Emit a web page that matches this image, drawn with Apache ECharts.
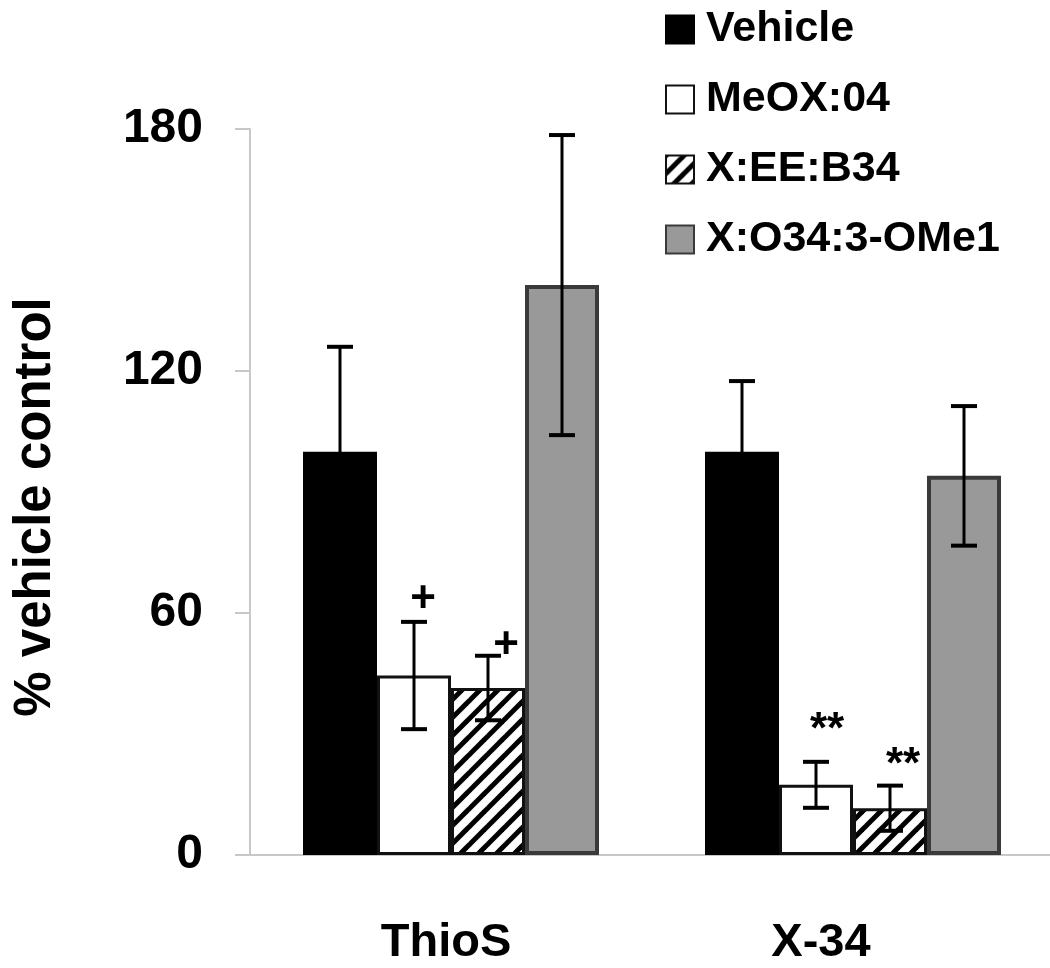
<!DOCTYPE html>
<html><head><meta charset="utf-8">
<script src="https://cdn.jsdelivr.net/npm/echarts@6/dist/echarts.min.js"></script>
<style>html,body{margin:0;padding:0;background:#fff}#c{width:1050px;height:968px}</style>
</head><body><div id="c"></div>
<script>
// ---- data ----
const categories = ['ThioS', 'X-34'];
const seriesNames = ['Vehicle', 'MeOX:04', 'X:EE:B34', 'X:O34:3-OMe1'];
const vehicle = [100, 100];
const meox = [44.5, 17.4];
const xee = [41.4, 11.6];
const xo34 = [141.3, 94];
const vehicleErr = [26, 17.5];
const meoxErr = [13.3, 5.7];
const xeeErr = [8, 5.6];
const xo34Err = [37.2, 17.3];
const meoxMarks = ['+', '**'];
const xeeMarks = ['+', '**'];
const yMin = 0, yMax = 180, yStep = 60;

// ---- styling ----
const FONT = '"Liberation Sans", Arial, sans-serif';
const BAR_W = 74;
const values = [vehicle, meox, xee, xo34];
const errs = [vehicleErr, meoxErr, xeeErr, xo34Err];
const marks = [null, meoxMarks, xeeMarks, null];
// pixel offsets of significance marks relative to the error-bar top [series][category]
const markOffset = { 1: [[9, 22], [11, 31]], 2: [[18, 10], [13, 20]] };

function hatch() {
  const s = 18, c = document.createElement('canvas');
  c.width = s; c.height = s;
  const g = c.getContext('2d');
  g.fillStyle = '#fff'; g.fillRect(0, 0, s, s);
  g.strokeStyle = '#000'; g.lineWidth = 5;
  for (const o of [-s, 0, s]) {
    g.beginPath(); g.moveTo(o - 2, s + 2); g.lineTo(o + s + 2, -2); g.stroke();
  }
  return c;
}

const barStyles = [
  { color: '#000', borderColor: '#000', borderWidth: 2 },
  { color: '#fff', borderColor: '#111', borderWidth: 3 },
  { color: { image: hatch(), repeat: 'repeat' }, borderColor: '#111', borderWidth: 3 },
  { color: '#999', borderColor: '#3a3a3a', borderWidth: 4 }
];

const barSeries = seriesNames.map((n, i) => ({
  name: n, type: 'bar', data: values[i], barWidth: BAR_W, barGap: '0%',
  itemStyle: barStyles[i], z: 2, animation: false
}));

const errData = [];
values.forEach((arr, s) => arr.forEach((v, c) => errData.push([c, v, errs[s][c], s])));

const errSeries = {
  name: 'err', type: 'custom', z: 5, animation: false,
  data: errData, encode: { x: 0, y: 1 },
  renderItem: (params, api) => {
    const c = api.value(0), v = api.value(1), e = api.value(2), s = api.value(3);
    const p = api.coord([c, v]);
    const top = api.coord([c, v + e])[1];
    const bot = api.coord([c, v - e])[1];
    const x = p[0] + (s - 1.5) * BAR_W;
    const st = { stroke: '#000', lineWidth: 3 };
    const cap = { stroke: '#000', lineWidth: 4 };
    return { type: 'group', children: [
      { type: 'line', shape: { x1: x, y1: top, x2: x, y2: bot }, style: st },
      { type: 'line', shape: { x1: x - 13, y1: top, x2: x + 13, y2: top }, style: cap },
      { type: 'line', shape: { x1: x - 13, y1: bot, x2: x + 13, y2: bot }, style: cap }
    ] };
  }
};

const markData = [];
marks.forEach((m, s) => { if (m) m.forEach((t, c) => markData.push([c, values[s][c] + errs[s][c], s])); });

const markSeries = {
  name: 'marks', type: 'custom', z: 6, animation: false,
  data: markData, encode: { x: 0, y: 1 },
  renderItem: (params, api) => {
    const c = api.value(0), v = api.value(1), s = api.value(2);
    const p = api.coord([c, v]);
    const off = markOffset[s][c];
    const x = p[0] + (s - 1.5) * BAR_W + off[0];
    return { type: 'text', style: {
      x: x, y: p[1] - off[1], text: marks[s][c],
      font: 'bold 44px ' + FONT, fill: '#000', align: 'center', verticalAlign: 'middle'
    } };
  }
};

const chart = echarts.init(document.getElementById('c'), null, { renderer: 'canvas' });
chart.setOption({
  backgroundColor: '#fff',
  animation: false,
  grid: { left: 250, top: 129, width: 804, bottom: 113, containLabel: false, outerBoundsMode: 'none' },
  legend: {
    data: seriesNames, orient: 'vertical', left: 665, top: 8, padding: 0,
    icon: 'rect', itemWidth: 28, itemHeight: 28, itemGap: 27,
    selectedMode: false,
    textStyle: { fontFamily: FONT, fontWeight: 'bold', fontSize: 43, color: '#000', lineHeight: 40, padding: [0, 0, 0, 7] }
  },
  xAxis: {
    type: 'category', data: [
      { value: categories[0], textStyle: { padding: [0, 10, 0, 0] } },
      { value: categories[1], textStyle: { padding: [0, 64, 0, 0] } }
    ],
    axisLine: { show: true, lineStyle: { color: '#c8c8c8', width: 2 } },
    axisTick: { show: false },
    axisLabel: { fontFamily: FONT, fontWeight: 'bold', fontSize: 47, color: '#000', margin: 65 }
  },
  yAxis: {
    type: 'value', min: yMin, max: yMax, interval: yStep,
    name: '% vehicle control', nameLocation: 'middle', nameGap: 189, nameRotate: 90,
    nameTextStyle: { fontFamily: FONT, fontWeight: 'bold', fontSize: 51, color: '#000', padding: [0, 30, 0, 0] },
    axisLine: { show: true, lineStyle: { color: '#c8c8c8', width: 2 } },
    axisTick: { show: true, length: 15, lineStyle: { color: '#c8c8c8', width: 2 } },
    splitLine: { show: false },
    axisLabel: { fontFamily: FONT, fontWeight: 'bold', fontSize: 48, color: '#000', margin: 47, padding: [10, 0, 0, 0] }
  },
  series: [...barSeries, errSeries, markSeries]
});
</script></body></html>
